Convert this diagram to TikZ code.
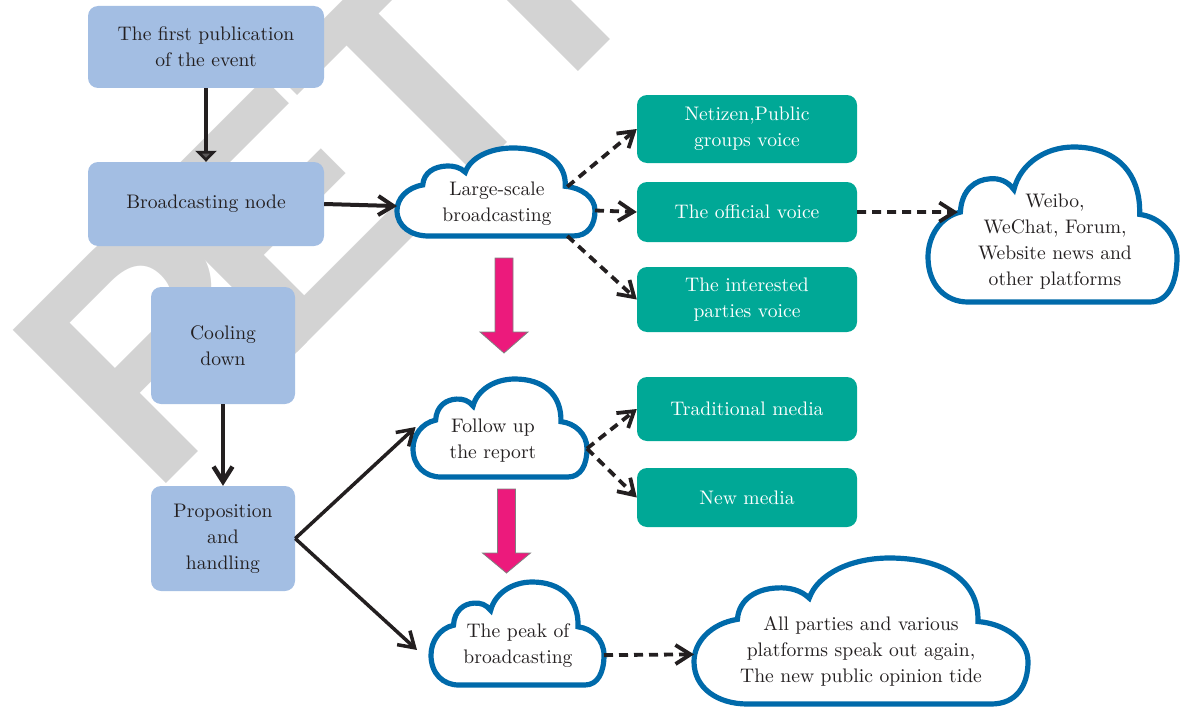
\documentclass[tikz,border=0pt]{standalone}
\usepackage{fontspec}
\setmainfont{lmroman10-regular.otf}
\newfontfamily\markfont{Liberation Sans}
\usetikzlibrary{arrows.meta,calc}

\definecolor{boxblue}{RGB}{163,190,227}
\definecolor{voicegreen}{RGB}{0,168,150}
\definecolor{cloudblue}{RGB}{0,106,170}
\definecolor{arrowpink}{RGB}{236,26,124}
\definecolor{markgray}{RGB}{211,211,211}
\definecolor{ink}{RGB}{35,31,32}

\tikzset{
  label text/.style={font=\fontsize{19.6}{26}\selectfont, text=ink, align=center},
  stage/.style={label text, fill=boxblue, rounded corners=10pt, inner sep=0pt},
  voice/.style={label text, fill=voicegreen, rounded corners=10pt, inner sep=0pt,
                text=white, minimum width=220pt},
  cloudline/.style={draw=cloudblue, line width=5.2pt, fill=white},
  flow/.style={draw=ink, line width=4pt, -{Straight Barb[length=15pt,width=19pt]}},
  dashflow/.style={flow, line width=3.8pt, dash pattern=on 9pt off 6pt},
  dropfill/.style={fill=arrowpink, draw=gray, line width=0.8pt},
  stampletter/.style={text=markgray, rotate=45, anchor=base west, inner sep=0pt,
                      outer sep=0pt, font=\markfont\bfseries\fontsize{315}{315}\selectfont},
}

% flat-bottomed cloud outline: name, centre x, centre y, half width, half height
\newcommand\puffcloud[5]{%
  \begin{scope}[shift={(#2,#3)}, xscale=#4, yscale=-#5]
    \path[cloudline] (-0.68,-1) -- (0.78,-1)
      .. controls (0.93,-1) and (1,-0.75) .. (1,-0.42)
      .. controls (1,-0.12) and (0.86,0.10) .. (0.70,0.13)
      .. controls (0.71,0.68) and (0.50,1) .. (0.17,1)
      .. controls (-0.06,1) and (-0.26,0.78) .. (-0.31,0.45)
      .. controls (-0.36,0.56) and (-0.43,0.60) .. (-0.50,0.59)
      .. controls (-0.62,0.58) and (-0.73,0.45) .. (-0.74,0.16)
      .. controls (-0.90,0.10) and (-1,-0.15) .. (-1,-0.42)
      .. controls (-1,-0.78) and (-0.86,-1) .. (-0.68,-1) -- cycle;
    \coordinate (#1-w)  at (-1,-0.32);
    \coordinate (#1-wn) at (-0.97,0.02);
    \coordinate (#1-e)  at (1,-0.42);
    \coordinate (#1-ne) at (0.72,0.12);
    \coordinate (#1-se) at (0.72,-1);
    \coordinate (#1-nw) at (-0.76,0.16);
  \end{scope}}

% thick downward block arrow: centre x, shaft top, head base, tip
\newcommand\pinkdrop[4]{%
  \path[dropfill] (#1-9,#2) -- (#1+9,#2) -- (#1+9,#3) -- (#1+24,#3)
    -- (#1,#4) -- (#1-24,#3) -- (#1-9,#3) -- cycle;}

\begin{document}
\begin{tikzpicture}[x=1pt,y=-1pt]
\useasboundingbox (0,0) rectangle (1181,709);

% background stamp, set letter by letter along a 45 degree baseline
\begin{scope}
  \clip (0,0) rectangle (1181,709);
  \node[stampletter] (stampR) at (151.8,498.2) {R};
  \node[stampletter] (stampE) at (282.6,367.4) {E};
  \node[stampletter] (stampT) at (423.6,226.4) {T};
  \node[stampletter] (stampS) at (563.3,86.7) {R};
\end{scope}

% stages of the event
\node[stage, minimum width=236pt, minimum height=82pt] (pub) at (206,47)
  {The first publication\\of the event};
\node[stage, minimum width=236pt, minimum height=84pt] (bcast) at (206,204)
  {Broadcasting node};
\node[stage, minimum width=144pt, minimum height=117pt] (cool) at (223,345.5)
  {Cooling\\down};
\node[stage, minimum width=144pt, minimum height=105pt] (prop) at (223,538.5)
  {Proposition\\and\\handling};

% voices and media
\node[voice, minimum height=68pt] (netz) at (747,129) {Netizen,Public\\groups voice};
\node[voice, minimum height=60pt] (offc) at (747,212) {The official voice};
\node[voice, minimum height=65pt] (intr) at (747,299.5) {The interested\\parties voice};
\node[voice, minimum height=64pt] (trad) at (747,409) {Traditional media};
\node[voice, minimum height=59pt] (newm) at (747,497.5) {New media};

% clouds
\puffcloud{lsbc}{496}{192}{99}{44}
\node[label text] (lsb) at (497,204) {Large-scale\\broadcasting};
\puffcloud{wbc}{1052.5}{224.5}{124.5}{77.5}
\node[label text] (wb) at (1055,242) {Weibo,\\WeChat, Forum,\\Website news and\\other platforms};
\puffcloud{fuc}{500}{428}{87}{49}
\node[label text] (fu) at (493,441) {Follow up\\the report};
\puffcloud{pkc}{517.5}{633.5}{86.5}{51.5}
\node[label text] (pk) at (518,646) {The peak of\\broadcasting};
\puffcloud{allc}{861}{631}{167}{73}
\node[label text] (tide) at (861,651) {All parties and various\\platforms speak out again,\\The new public opinion tide};

% block arrows between clouds
\pinkdrop{504}{258}{332}{353}
\pinkdrop{506.5}{489}{553}{573}

% solid connectors
\draw[flow, line width=4.5pt, -{Triangle[length=11pt,width=21pt,fill=ink!75]}] (pub) -- (bcast);
\draw[flow] (bcast.east) -- (lsbc-w);
\draw[flow, line width=4.5pt] (cool) -- (prop);
\draw[flow, line width=3.5pt] (prop.east) -- (fuc-wn);
\draw[flow, line width=3.5pt] (prop.east) -- ($(pkc-w)+(-14,0)$);

% dashed connectors
\draw[dashflow] (lsbc-ne) -- (netz.west);
\draw[dashflow] (lsbc-e) -- (offc.west);
\draw[dashflow] (lsbc-se) -- (intr.west);
\draw[dashflow] (offc.east) -- (wbc-nw);
\draw[dashflow] (fuc-e) -- (trad.west);
\draw[dashflow] (fuc-e) -- (newm.west);
\draw[dashflow] (pkc-e) -- (allc-w);
\end{tikzpicture}
\end{document}
